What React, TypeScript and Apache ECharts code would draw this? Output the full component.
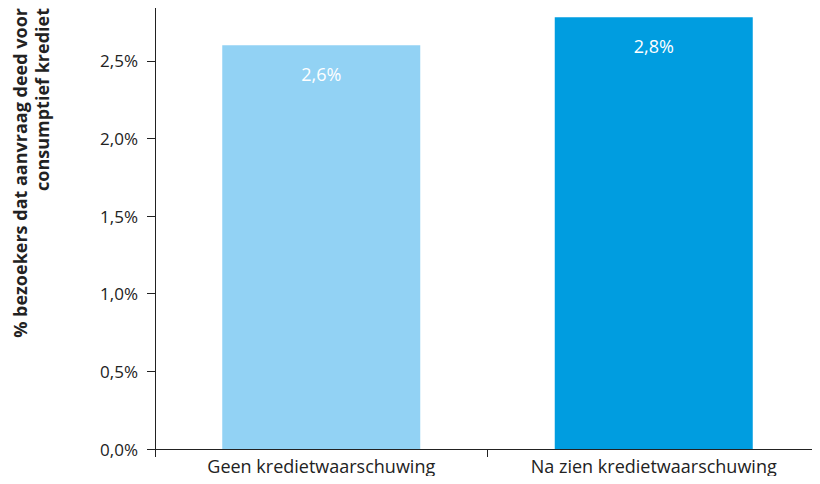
import React, { useEffect, useRef } from "react";
import * as echarts from "echarts";

const categories = ["Geen kredietwaarschuwing", "Na zien kredietwaarschuwing"];
const values = [2.6, 2.78];
const barColors = ["#92D2F4", "#009DE0"];
const yTicks = [0, 0.5, 1, 1.5, 2, 2.5];
const yTitle = "% bezoekers dat aanvraag deed voor\nconsumptief krediet";

const FONT = "'Open Sans', 'Noto Sans', sans-serif";
const fmt = (v: number) => v.toFixed(1).replace(".", ",") + "%";

export default function App() {
  const ref = useRef<HTMLDivElement>(null);
  useEffect(() => {
    if (!ref.current) return;
    const chart = echarts.init(ref.current, undefined, { renderer: "svg" });
    chart.setOption({
      animation: false,
      textStyle: { fontFamily: FONT },
      grid: { left: 155, right: -5, top: 8, bottom: 35, containLabel: false },
      xAxis: {
        type: "category",
        data: categories,
        boundaryGap: true,
        axisLine: { show: true, lineStyle: { color: "#222", width: 1 } },
        axisTick: { show: true, length: 8, lineStyle: { color: "#222" } },
        axisLabel: { color: "#222", fontSize: 18, margin: 8, fontFamily: FONT },
        splitLine: { show: false },
      },
      yAxis: {
        type: "value",
        min: 0,
        max: 2.84,
        interval: 0.5,
        axisLine: { show: true, lineStyle: { color: "#222", width: 1 } },
        axisTick: { show: true, length: 8, customValues: yTicks, lineStyle: { color: "#222" } },
        axisLabel: {
          color: "#222",
          fontSize: 17,
          margin: 17,
          fontFamily: FONT,
          customValues: yTicks,
          formatter: (v: number) => fmt(v),
        },
        splitLine: { show: false },
      },
      graphic: [
        {
          type: "text",
          x: 31,
          y: 8,
          rotation: Math.PI / 2,
          style: {
            text: yTitle,
            fontFamily: FONT,
            fontSize: 18,
            fontWeight: "bold",
            fill: "#222",
            align: "right",
            verticalAlign: "middle",
            lineHeight: 22,
          },
        },
      ],
      series: [
        {
          type: "bar",
          barWidth: 198,
          data: values.map((v, i) => ({ value: v, itemStyle: { color: barColors[i] } })),
          label: {
            show: true,
            position: "insideTop",
            distance: 20,
            color: "#fff",
            fontSize: 18,
            fontFamily: FONT,
            formatter: (p: any) => fmt(p.value),
          },
        },
      ],
    });
    return () => chart.dispose();
  }, []);
  return <div ref={ref} style={{ width: 820, height: 484, margin: -8 }} />;
}
